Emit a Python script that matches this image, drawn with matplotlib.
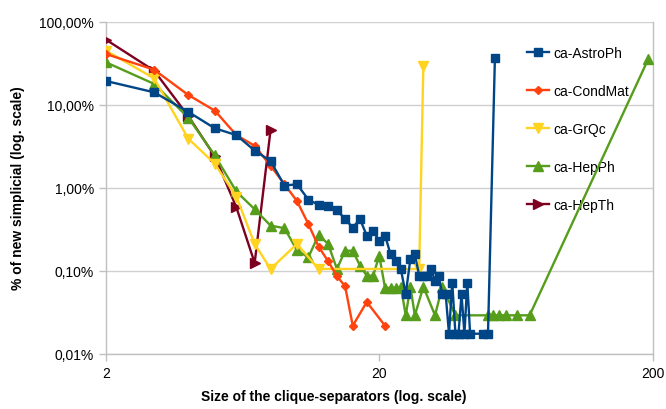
import numpy as np
import matplotlib
matplotlib.use('Agg')
import matplotlib.pyplot as plt
from matplotlib.ticker import FixedLocator, FuncFormatter, NullLocator

plt.rcParams['font.family'] = ['Liberation Sans', 'DejaVu Sans']

# separator size -> % of new simplicial
astro_x = [2, 3, 4, 5, 6, 7, 8, 9, 10, 11, 12, 13, 14, 15, 16, 17, 18, 19, 20, 21,
           22, 23, 24, 25, 26, 27, 28, 29, 30, 31, 32, 33, 34, 35, 36, 37, 38, 39,
           40, 41, 42, 43, 48, 50, 53]
astro_y = [19.3, 14.1, 8.2, 5.2, 4.3, 2.8, 2.1, 1.06, 1.1, 0.72, 0.62, 0.60, 0.535,
           0.42, 0.33, 0.42, 0.265, 0.30, 0.23, 0.265, 0.158, 0.13, 0.104, 0.052,
           0.139, 0.158, 0.087, 0.087, 0.087, 0.104, 0.075, 0.087, 0.052, 0.052,
           0.0174, 0.072, 0.0174, 0.0174, 0.052, 0.0174, 0.072, 0.0174, 0.0174,
           0.0174, 36.2]

cond_x = [2, 3, 4, 5, 6, 7, 8, 9, 10, 11, 12, 13, 14, 15, 16, 18, 21]
cond_y = [40.8, 26.4, 13.1, 8.5, 4.3, 3.2, 1.84, 1.1, 0.69, 0.366, 0.195, 0.13,
          0.086, 0.065, 0.0217, 0.042, 0.0217]

grqc_x = [2, 3, 4, 5, 6, 7, 8, 10, 12, 28, 29]
grqc_y = [44.7, 20.8, 3.9, 1.95, 0.78, 0.21, 0.105, 0.21, 0.105, 0.105, 29.5]

hepph_x = [2, 3, 4, 5, 6, 7, 8, 9, 10, 11, 12, 13, 14, 15, 16, 17, 18, 19, 20, 21,
           22, 23, 24, 25, 26, 27, 29, 32, 34, 38, 50, 52, 55, 58, 64, 71, 193]
hepph_y = [32.4, 17.8, 7.0, 2.45, 0.9, 0.55, 0.35, 0.325, 0.176, 0.145, 0.27, 0.21,
           0.105, 0.174, 0.174, 0.115, 0.087, 0.087, 0.152, 0.062, 0.062, 0.062,
           0.064, 0.029, 0.064, 0.029, 0.064, 0.029, 0.064, 0.029, 0.029, 0.029,
           0.029, 0.029, 0.029, 0.029, 35.5]

hepth_x = [2, 3, 4, 5, 6, 7, 8]
hepth_y = [60.7, 25.7, 7.3, 2.4, 0.58, 0.124, 4.9]

names = ['ca-AstroPh', 'ca-CondMat', 'ca-GrQc', 'ca-HepPh', 'ca-HepTh']
colors = ['#004586', '#ff420e', '#ffd320', '#579d1c', '#7e0021']
markers = ['s', 'D', 'v', '^', '>']
msizes = [6, 4.5, 6.5, 6.5, 6.5]

fig = plt.figure(figsize=(6.66, 4.10), dpi=100)
ax = fig.add_axes([106/666, 1-354.7/410, 546.5/666, 332/410])

series = [(astro_x, astro_y), (cond_x, cond_y), (grqc_x, grqc_y),
          (hepph_x, hepph_y), (hepth_x, hepth_y)]
for i, (xs, ys) in enumerate(series):
    ax.plot(xs, ys, color=colors[i], marker=markers[i], markersize=msizes[i],
            linewidth=1.7, label=names[i], zorder=10-i)

ax.set_xscale('log')
ax.set_yscale('log')
ax.set_xlim(2, 200)
ax.set_ylim(0.01, 100)

ax.xaxis.set_major_locator(FixedLocator([2, 20, 200]))
ax.xaxis.set_minor_locator(NullLocator())
ax.xaxis.set_major_formatter(FuncFormatter(lambda v, p: '%d' % v))
ax.yaxis.set_major_locator(FixedLocator([0.01, 0.1, 1, 10, 100]))
ax.yaxis.set_minor_locator(NullLocator())
ax.yaxis.set_major_formatter(FuncFormatter(lambda v, p: ('%.2f%%' % v).replace('.', ',')))

ax.grid(axis='y', color='#d0d0d0', linewidth=1)
for s in ax.spines.values():
    s.set_color('#c0c0c0')
    s.set_linewidth(1)
ax.spines['top'].set_visible(False)
ax.tick_params(colors='#c0c0c0', labelcolor='black', labelsize=10, length=5, width=1)

fig.text(18/666, 1-188/410, '% of new simplicial (log. scale)', rotation=90,
         ha='center', va='center', fontsize=10, fontweight='bold')
fig.text(334/666, 1-397/410, 'Size of the clique-separators (log. scale)',
         ha='center', va='center', fontsize=10, fontweight='bold')

leg = ax.legend(loc='upper left', bbox_to_anchor=(527/666, 1-47/410),
                bbox_transform=fig.transFigure, frameon=False, fontsize=10,
                handlelength=1.6, handletextpad=0.3, labelspacing=1.72,
                borderpad=0, borderaxespad=0)

fig.savefig('out.png', dpi=100)
